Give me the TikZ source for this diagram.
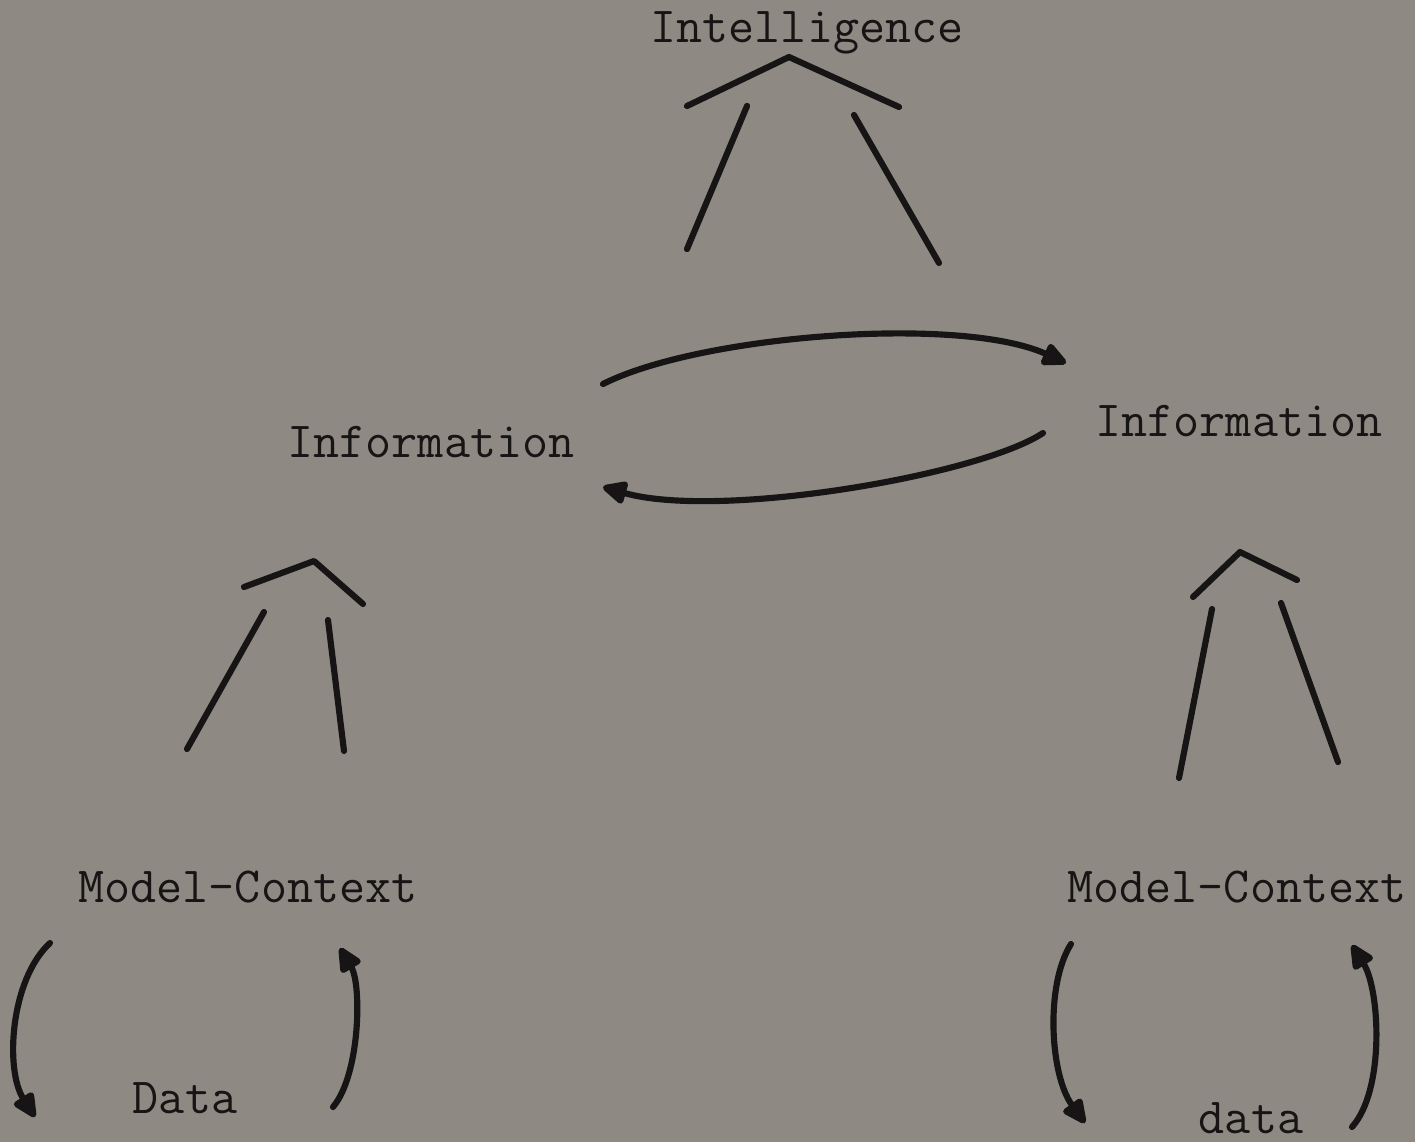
\documentclass[tikz,border=0pt]{standalone}
\usepackage{fontspec}
\usetikzlibrary{arrows.meta}
\definecolor{paper}{RGB}{142,137,130}
\definecolor{ink}{RGB}{22,20,20}
\tikzset{
    word/.style={font=\ttfamily\fontsize{28.8}{30}\selectfont\addfontfeature{FakeBold=1.6}, text=ink, inner sep=0pt, anchor=base},
    stroke/.style={draw=ink, line width=3.5pt, line cap=round, line join=round},
    arrowline/.style={stroke, -{Triangle[length=16pt,width=14pt,round]}},
}
\begin{document}
\begin{tikzpicture}[x=0.02cm,y=-0.02cm]
    \fill[paper] (0,0) rectangle (1415,1142);
    \useasboundingbox (0,0) rectangle (1415,1142);
    % labels
    \node[word] (intel) at (807,43) {Intelligence};
    \node[word] (infoL) at (431,457) {Information};
    \node[word] (infoR) at (1239,436) {Information};
    \node[word] (mcL) at (248,902) {Model-Context};
    \node[word] (mcR) at (1237,902) {Model-Context};
    \node[word] (dataL) at (185,1113) {Data};
    \node[word] (dataR) at (1251,1133) {data};
    % hats and legs
    \draw[stroke] (687,106) -- (789,57) -- (899,107);
    \draw[stroke] (747,106) -- (687,249);
    \draw[stroke] (854,115) -- (939,263);
    \draw[stroke] (244,587) -- (314,561) -- (363,604);
    \draw[stroke] (264,612) -- (187,749);
    \draw[stroke] (328,620) -- (344,751);
    \draw[stroke] (1193,597) -- (1240,552) -- (1297,580);
    \draw[stroke] (1212,609) -- (1179,778);
    \draw[stroke] (1281,603) -- (1338,762);
    % arrows between the two Information
    \coordinate (topA) at (603,384);
    \coordinate (topB) at (1066,363);
    \coordinate (botA) at (1043,433);
    \coordinate (botB) at (603,487);
    \draw[arrowline] (topA) .. controls (700,335) and (960,315) .. (topB);
    \draw[arrowline] (botA) .. controls (980,475) and (720,520) .. (botB);
    % data loops
    \coordinate (lA) at (50,943);
    \coordinate (lB) at (35,1117);
    \coordinate (lC) at (333,1107);
    \coordinate (lD) at (340,948);
    \draw[arrowline] (lA) .. controls (10,980) and (5,1070) .. (lB);
    \draw[arrowline] (lC) .. controls (360,1075) and (362,985) .. (lD);
    \coordinate (rA) at (1071,944);
    \coordinate (rB) at (1085,1123);
    \coordinate (rC) at (1352,1127);
    \coordinate (rD) at (1352,945);
    \draw[arrowline] (rA) .. controls (1045,985) and (1050,1075) .. (rB);
    \draw[arrowline] (rC) .. controls (1385,1090) and (1380,990) .. (rD);
\end{tikzpicture}
\end{document}
